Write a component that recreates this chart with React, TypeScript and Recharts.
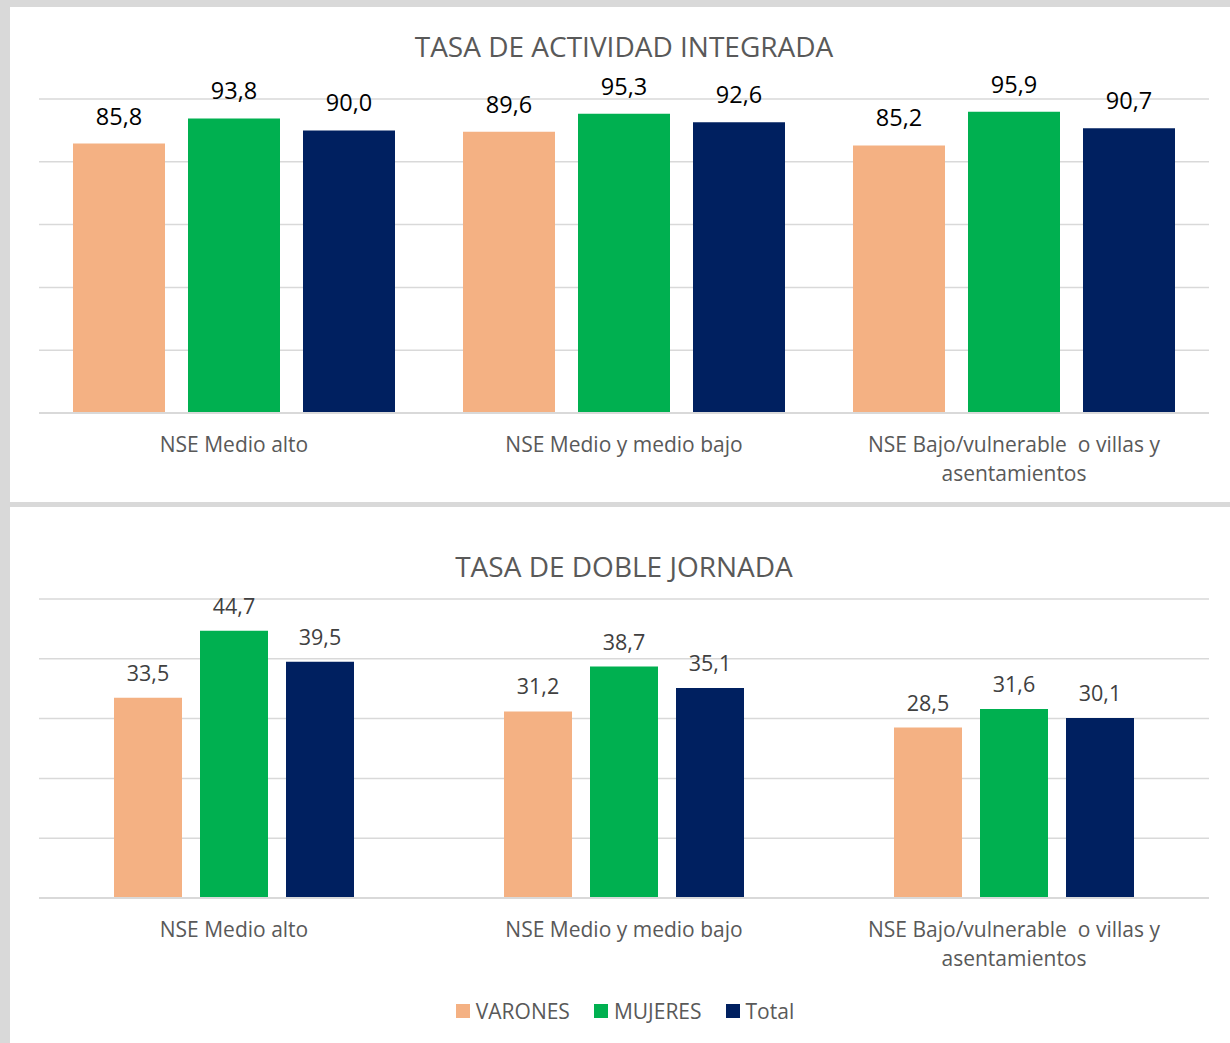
import React from "react";
import {
  BarChart,
  Bar,
  XAxis,
  YAxis,
  CartesianGrid,
  LabelList,
  Legend,
} from "recharts";

const categories = [
  "NSE Medio alto",
  "NSE Medio y medio bajo",
  "NSE Bajo/vulnerable  o villas y\nasentamientos",
];
const seriesNames = ["VARONES", "MUJERES", "Total"];
const seriesColors = ["#F4B183", "#00B050", "#002060"];

const actividadVarones = [85.8, 89.6, 85.2];
const actividadMujeres = [93.8, 95.3, 95.9];
const actividadTotal = [90.0, 92.6, 90.7];
const actividadTicks = [0, 20, 40, 60, 80, 100];

const jornadaVarones = [33.5, 31.2, 28.5];
const jornadaMujeres = [44.7, 38.7, 31.6];
const jornadaTotal = [39.5, 35.1, 30.1];
const jornadaTicks = [0, 10, 20, 30, 40, 50];

const FONT = "'Open Sans', 'Noto Sans', sans-serif";
const GRID = "#d9d9d9";

const buildRows = (a: number[], b: number[], c: number[]) =>
  categories.map((name, i) => ({ name, VARONES: a[i], MUJERES: b[i], Total: c[i] }));

const actividadData = buildRows(actividadVarones, actividadMujeres, actividadTotal);
const jornadaData = buildRows(jornadaVarones, jornadaMujeres, jornadaTotal);

const fmt = (v: any) => Number(v).toFixed(1).replace(".", ",");

function CategoryTick({ x, y, payload }: any) {
  const lines = String(payload.value).split("\n");
  return (
    <text
      x={x}
      y={y}
      textAnchor="middle"
      fill="#595959"
      fontSize={21}
      fontFamily={FONT}
      style={{ whiteSpace: "pre" }}
    >
      {lines.map((l, i) => (
        <tspan key={i} x={x} dy={i === 0 ? 39 : 29}>
          {l}
        </tspan>
      ))}
    </text>
  );
}

function LegendBox() {
  // same order as the series, not sorted
  return (
    <div
      style={{
        display: "flex",
        justifyContent: "center",
        alignItems: "center",
        fontFamily: FONT,
        fontSize: 21,
        color: "#595959",
        paddingLeft: 10,
      }}
    >
      {seriesNames.map((s, i) => (
        <div key={s} style={{ display: "flex", alignItems: "center", margin: "0 12px" }}>
          <span style={{ width: 14, height: 14, background: seriesColors[i], marginRight: 6, display: "inline-block" }} />
          <span>{s}</span>
        </div>
      ))}
    </div>
  );
}

function Panel({
  data,
  ticks,
  title,
  height,
  plotHeight,
  titleY,
  barSize,
  barGap,
  labelColor,
  labelSize,
  labelOffset,
  showLegend,
}: any) {
  const marginBottom = height - 92 - plotHeight - 40;
  return (
    <BarChart
      width={1220}
      height={height}
      data={data}
      margin={{ top: 92, right: 21, bottom: marginBottom, left: 29 }}
      barGap={barGap}
    >
      <text
        x={614}
        y={titleY}
        textAnchor="middle"
        fill="#595959"
        fontSize={28}
        fontFamily={FONT}
      >
        {title}
      </text>
      <CartesianGrid vertical={false} stroke={GRID} strokeWidth={1.5} />
      <XAxis
        dataKey="name"
        axisLine={{ stroke: GRID, strokeWidth: 2 }}
        tickLine={false}
        tickSize={0}
        tickMargin={0}
        height={40}
        interval={0}
        tick={<CategoryTick />}
      />
      <YAxis hide domain={[0, ticks[ticks.length - 1]]} ticks={ticks} />
      {seriesNames.map((s, i) => (
        <Bar key={s} dataKey={s} fill={seriesColors[i]} barSize={barSize} isAnimationActive={false}>
          <LabelList
            dataKey={s}
            position="top"
            offset={labelOffset}
            formatter={fmt}
            fill={labelColor}
            fontSize={labelSize}
            fontFamily={FONT}
          />
        </Bar>
      ))}
      {showLegend && (
        <Legend
          verticalAlign="middle"
          align="center"
          layout="horizontal"
          content={<LegendBox />}
          wrapperStyle={{ top: 490, left: 0, width: 1220 }}
        />
      )}
    </BarChart>
  );
}

export default function App() {
  return (
    <div
      style={{
        position: "absolute",
        left: 0,
        top: 0,
        width: 1230,
        height: 1043,
        background: GRID,
        overflow: "hidden",
      }}
    >
      <div style={{ position: "absolute", left: 10, top: 7, width: 1220, height: 495, background: "#fff" }}>
        <Panel
          data={actividadData}
          ticks={actividadTicks}
          title="TASA DE ACTIVIDAD INTEGRADA"
          height={495}
          plotHeight={314}
          titleY={50}
          barSize={92}
          barGap={23}
          labelColor="#000000"
          labelSize={23.5}
          labelOffset={19}
        />
      </div>
      <div style={{ position: "absolute", left: 10, top: 507, width: 1220, height: 536, background: "#fff" }}>
        <Panel
          data={jornadaData}
          ticks={jornadaTicks}
          title="TASA DE DOBLE JORNADA"
          height={536}
          plotHeight={299}
          titleY={70}
          barSize={68}
          barGap={18}
          labelColor="#404040"
          labelSize={21.5}
          labelOffset={17}
          showLegend
        />
      </div>
    </div>
  );
}
